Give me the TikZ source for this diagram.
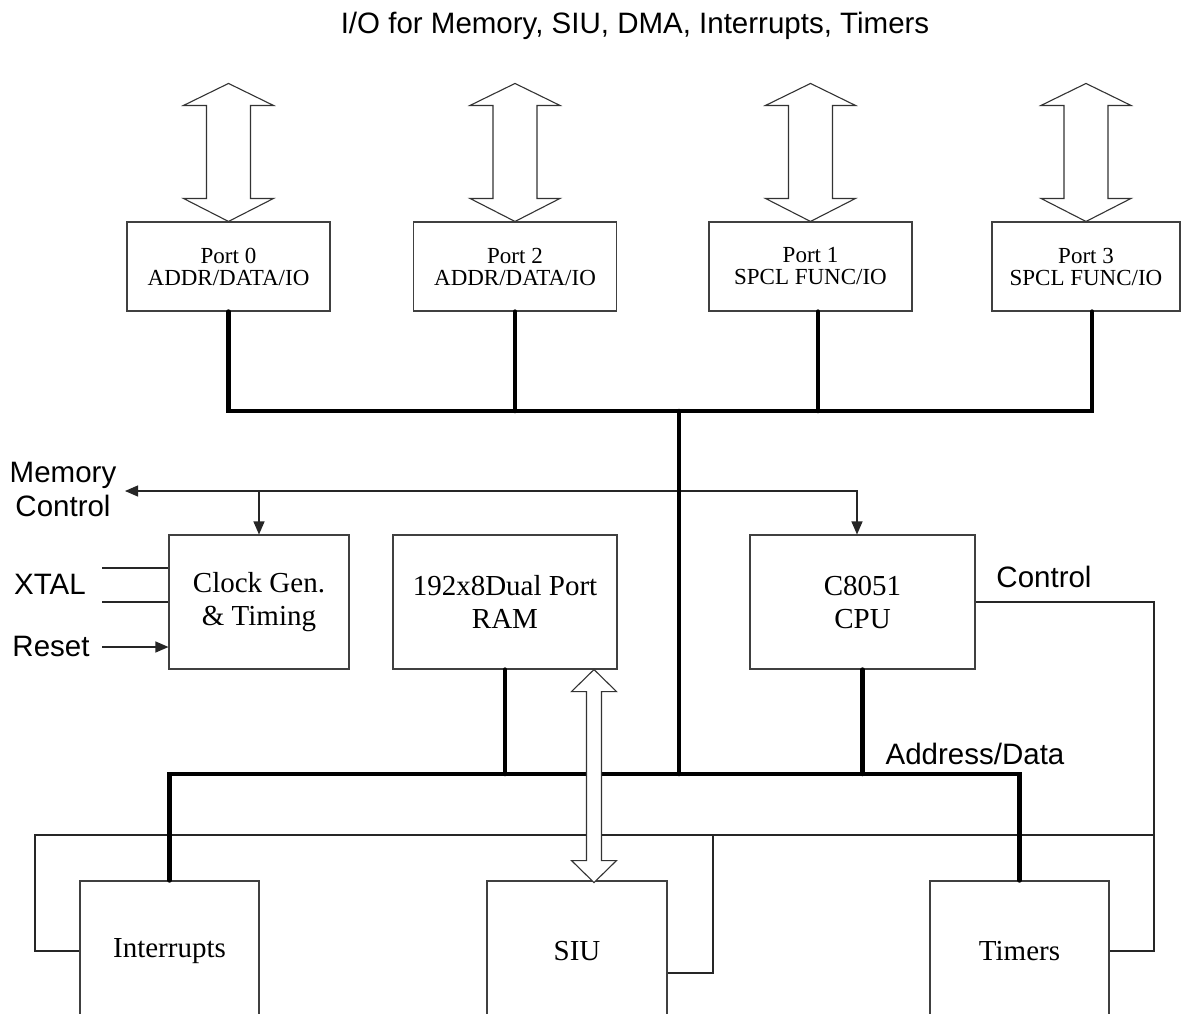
\documentclass[tikz,border=0pt]{standalone}
\usepackage{fontspec}
\setmainfont{Liberation Serif}
\setsansfont{Liberation Sans}
\usetikzlibrary{arrows.meta,calc}
\begin{document}
\begin{tikzpicture}[x=1pt,y=-1pt,
  box/.style={draw=black!75, line width=1.1pt, fill=white, inner sep=0pt, align=center,
    font=\fontsize{29}{33}\selectfont},
  portbox/.style={box, minimum width=203pt, minimum height=89pt, font=\fontsize{23}{22}\selectfont},
  lab/.style={font=\sffamily\fontsize{29.5}{34}\selectfont, align=center, inner sep=0pt},
  thinln/.style={draw=black!85, line width=1.1pt},
  bus/.style={draw=black, line width=4.5pt, line cap=round},
  wide/.style={draw=black!80, line width=1.1pt, fill=white, line join=miter},
  tip/.style={-{Triangle[length=13pt,width=11pt]}},
  tips/.style={{Triangle[length=13pt,width=11pt]}-{Triangle[length=13pt,width=11pt]}}]
\useasboundingbox (0,0) rectangle (1181,1013);
\fill[white] (0,0) rectangle (1181,1013);

% title and labels
\node[lab, anchor=base] (title) at (635,33) {I/O for Memory, SIU, DMA, Interrupts, Timers};
\node[lab] (memctl) at (63,489) {Memory\\Control};
\node[lab, anchor=base] (xtal) at (50,594) {XTAL};
\node[lab, anchor=base] (reset) at (51,656) {Reset};
\node[lab, anchor=base] (ctl) at (1044,587) {Control};
\node[lab, anchor=base] (ad) at (975,764) {Address/Data};

% boxes
\node[portbox] (p0) at (228.5,266.5) {Port 0\\ADDR/DATA/IO};
\node[portbox] (p2) at (515,266.5) {Port 2\\ADDR/DATA/IO};
\node[portbox] (p1) at (810.5,266.5) {Port 1\\SPCL FUNC/IO};
\node[portbox, minimum width=188pt] (p3) at (1086,266.5) {Port 3\\SPCL FUNC/IO};
\node[box, minimum width=180pt, minimum height=134pt] (clk) at (259,602) {Clock Gen.\\\& Timing};
\node[box, minimum width=224pt, minimum height=134pt] (ram) at (505,602) {192x8Dual Port\\RAM};
\node[box, minimum width=225pt, minimum height=134pt] (cpu) at (862.5,602) {C8051\\CPU};
\node[box, minimum width=179pt, minimum height=140pt] (intr) at (169.5,951) {Interrupts};
\node[box, minimum width=180pt, minimum height=140pt] (siu) at (577,951) {SIU};
\node[box, minimum width=179pt, minimum height=140pt] (tim) at (1019.5,951) {Timers};

% coordinates for free ends and junctions
\coordinate (mc) at (125,491);
\coordinate (x1) at (102,568);
\coordinate (x2) at (102,602);
\coordinate (rs) at (102,647);
\coordinate (cr) at (1154,835);
\coordinate (cl) at (35,835);
\coordinate (sj) at (713,835);
\coordinate (tb) at (679,411);
\coordinate (bb) at (679,774);

% thin control lines
\draw[thinln, tips] ([xshift=-5.5pt]cpu.north) |- (mc);
\draw[thinln, tip] (clk.north |- mc) -- (clk.north);
\draw[thinln] (x1) -- (x1 -| clk.west);
\draw[thinln] (x2) -- (clk.west);
\draw[thinln, tip] (rs) -- (rs -| clk.west);
\draw[thinln] (cpu.east) -| (cr) |- (tim.east);
\draw[thinln] (cr) -- (cl) |- (intr.west);
\draw[thinln] ([yshift=-22pt]siu.east) -| (sj);

% buses
\draw[bus] (p0.south) |- (tb) -| ([xshift=6pt]p3.south);
\draw[bus] (p2.south) -- (p2.south |- tb);
\draw[bus] ([xshift=7.5pt]p1.south) -- ([xshift=7.5pt]p1.south |- tb);
\draw[bus] (tb) -- (bb);
\draw[bus] (intr.north) |- (bb) -| (tim.north);
\draw[bus] (ram.south) -- (ram.south |- bb);
\draw[bus] (cpu.south) -- (cpu.south |- bb);

% wide double arrows to the ports
\foreach \p in {p0,p2,p1,p3}{
  \draw[wide] (\p.north) -- ++(45,-23) -- ++(-23,0) -- ++(0,-93) -- ++(23,0)
    -- ++(-45,-22) -- ++(-45,22) -- ++(23,0) -- ++(0,93) -- ++(-23,0) -- cycle;
}
% wide double arrow RAM <-> SIU
\draw[wide] ([xshift=89pt]ram.south) -- ++(22.5,22) -- ++(-15,0) -- ++(0,169) -- ++(15,0)
  -- ++(-22.5,22) -- ++(-22.5,-22) -- ++(15,0) -- ++(0,-169) -- ++(-15,0) -- cycle;
\end{tikzpicture}
\end{document}
